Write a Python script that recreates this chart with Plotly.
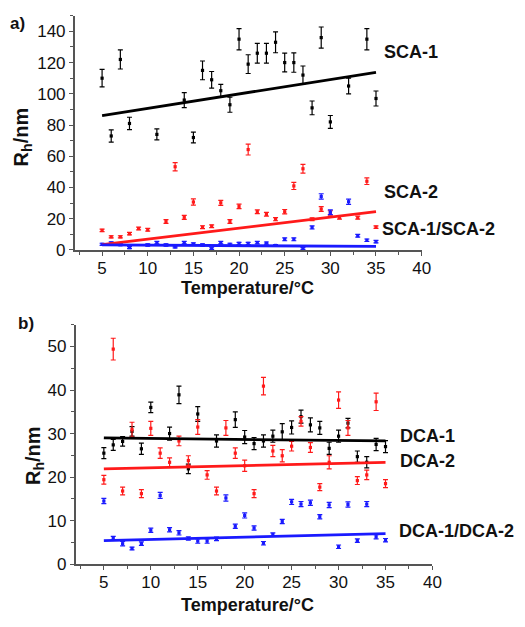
import plotly.graph_objects as go

# ---- Panel a: SCA series ----
sca1_T = [5, 6, 7, 8, 11, 14, 15, 16, 17, 18, 19, 20, 21, 22, 23, 24, 25, 26, 27, 28, 29, 30, 32, 34, 35]
sca1_R = [110, 73, 122, 81, 74, 96, 72, 115, 109, 102, 93, 135, 119, 126, 126, 133, 120, 120, 112, 91, 136, 82, 105, 135, 97]
sca1_err = [5.6, 3.9, 6.1, 4.0, 3.5, 4.8, 3.4, 6.0, 5.3, 4.0, 4.8, 6.8, 6.0, 6.3, 6.3, 6.7, 6.0, 6.2, 5.8, 4.4, 6.8, 4.1, 5.1, 6.8, 4.8]

sca2_T = [5, 6, 7, 8, 9, 10, 12, 13, 14, 15, 16, 17, 18, 19, 20, 21, 22, 23, 24, 25, 26, 27, 28, 29, 30, 31, 33, 34, 35]
sca2_R = [12.5, 8.4, 8.4, 10.4, 13.7, 12.9, 18.2, 53.3, 20.9, 30.7, 14.6, 15.2, 30.2, 18.2, 27.9, 64.3, 24.5,
          22.8, 19.7, 24.5, 41, 52, 19.7, 26.2, 23.7, 20.7, 20.7, 44, 14.6]
sca2_err = [0.8, 0.7, 0.7, 0.8, 0.9, 0.9, 1.2, 2.6, 1.3, 2.0, 0.9, 0.9, 1.6, 1.2, 1.4, 3.5, 1.2, 1.2, 1.0, 1.4,
            2.3, 2.8, 0.9, 1.5, 1.4, 0.9, 1.0, 2.1, 0.8]

sca12_T = [5, 6, 7, 8, 10, 11, 12, 13, 14, 15, 16, 17, 18, 19, 20, 21, 22, 23, 24, 25, 26, 27, 28, 29, 30, 32, 33, 34, 35]
sca12_R = [3.6, 4.5, 3.4, 1.5, 3.2, 4.7, 3.2, 1.9, 4.7, 3.8, 3.2, 0.8, 4.7, 3.6, 4.2, 4.2, 4.7, 4.4, 2.9, 6.8,
           6.8, 1.0, 14.4, 34.3, 24.1, 30.9, 9.1, 6.2, 5.3]
sca12_err = [0.7, 0.7, 0.7, 0.6, 0.7, 0.8, 0.7, 0.6, 0.8, 0.7, 0.7, 0.6, 0.8, 0.7, 0.7, 0.7, 0.8, 0.7, 0.6, 0.9,
             0.9, 0.6, 1.0, 1.7, 1.5, 1.7, 0.9, 0.8, 0.8]

fit_T = [5, 35]
sca1_fit = [86.0, 113.8]
sca2_fit = [3.4, 24.5]
sca12_fit = [3.2, 2.3]

# ---- Panel b: DCA series ----
dca1_T = [5, 6, 7, 8, 9, 10, 12, 13, 14, 15, 17, 19, 20, 21, 22, 23, 24, 25, 26, 27, 28, 29, 30, 31, 32, 33, 34, 35]
dca1_R = [25.5, 27.4, 28.2, 30.5, 26.5, 36.0, 30.0, 38.9, 21.9, 34.5, 28.3, 33.2, 29.2, 27.7, 28.3, 29.4, 30.4,
          31.4, 33.9, 32.0, 31.3, 26.6, 29.4, 32.4, 24.7, 23.4, 27.5, 27.0]
dca1_err = [1.25, 1.25, 1.1, 1.1, 1.3, 1.2, 1.5, 2.0, 1.1, 1.7, 1.4, 1.8, 1.5, 1.4, 1.4, 1.4, 1.9, 1.5, 1.5, 1.6,
            1.5, 1.4, 1.4, 1.1, 1.3, 1.3, 1.4, 1.4]

dca2_T = list(range(5, 36))
dca2_R = [19.4, 49.4, 16.8, 30.9, 16.2, 31.2, 25.5, 23.4, 28.3, 23.8, 31.5, 20.5, 16.8, 31.3, 25.5, 22.6, 16.2,
          40.9, 26.0, 24.9, 27.1, 32.8, 26.8, 17.7, 23.4, 37.7, 31.3, 19.2, 20.5, 37.3, 18.5]
dca2_err = [1.0, 2.5, 0.9, 1.7, 0.9, 1.6, 1.2, 1.0, 1.1, 1.1, 1.7, 1.0, 0.9, 1.7, 1.2, 1.3, 0.9, 2.0, 1.3, 1.4,
            1.1, 1.1, 1.1, 0.8, 1.5, 1.9, 1.7, 0.9, 1.1, 2.0, 0.9]

dca12_T = list(range(5, 36))
dca12_R = [14.5, 6.0, 4.7, 3.6, 4.7, 7.8, 15.8, 7.9, 7.2, 5.9, 5.3, 5.3, 5.8, 15.2, 8.7, 11.2, 8.3, 4.8, 6.8, 9.8,
           14.3, 13.8, 14.1, 10.9, 13.6, 4.0, 13.7, 5.4, 13.8, 6.3, 5.5]
dca12_err = [0.6, 0.4, 0.5, 0.3, 0.4, 0.5, 0.7, 0.5, 0.5, 0.4, 0.5, 0.5, 0.4, 0.7, 0.5, 0.6, 0.5, 0.4, 0.4, 0.5,
             0.6, 0.6, 0.6, 0.5, 0.6, 0.4, 0.6, 0.4, 0.6, 0.5, 0.4]

dca1_fit = [29.0, 28.3]
dca2_fit = [21.9, 23.4]
dca12_fit = [5.4, 7.0]

BLACK, RED, BLUE = "#000000", "#ff1a1a", "#1a1aff"
FONT = "Liberation Sans, Arial, sans-serif"
W, H = 525, 627

fig = go.Figure()


def points(T, R, err, color, xa, ya):
    fig.add_trace(go.Scatter(
        x=T, y=R, mode="markers", xaxis=xa, yaxis=ya,
        marker=dict(symbol="square", size=3.2, color=color),
        error_y=dict(type="data", array=err, visible=True, color=color, thickness=1.2, width=2.5),
        showlegend=False, cliponaxis=False,
    ))


def fit(T, F, color, xa, ya):
    fig.add_trace(go.Scatter(
        x=T, y=F, mode="lines", xaxis=xa, yaxis=ya,
        line=dict(color=color, width=2.8), showlegend=False,
    ))


points(sca1_T, sca1_R, sca1_err, BLACK, "x", "y")
points(sca2_T, sca2_R, sca2_err, RED, "x", "y")
points(sca12_T, sca12_R, sca12_err, BLUE, "x", "y")
fit(fit_T, sca1_fit, BLACK, "x", "y")
fit(fit_T, sca2_fit, RED, "x", "y")
fit(fit_T, sca12_fit, BLUE, "x", "y")

points(dca1_T, dca1_R, dca1_err, BLACK, "x2", "y2")
points(dca2_T, dca2_R, dca2_err, RED, "x2", "y2")
points(dca12_T, dca12_R, dca12_err, BLUE, "x2", "y2")
fit(fit_T, dca1_fit, BLACK, "x2", "y2")
fit(fit_T, dca2_fit, RED, "x2", "y2")
fit(fit_T, dca12_fit, BLUE, "x2", "y2")

AX = dict(
    showline=True, linecolor="#555555", linewidth=1.5, showgrid=False, zeroline=False,
    ticks="outside", ticklen=4, tickwidth=1.2, tickcolor="#555555",
    tickfont=dict(family=FONT, size=17, color="#111111"),
)
XMINOR = dict(ticks="outside", ticklen=3, tickcolor="#555555", dtick=2.5, tick0=2.5)

fig.update_layout(
    width=W, height=H, margin=dict(l=0, r=0, t=0, b=0),
    paper_bgcolor="white", plot_bgcolor="white",
    xaxis=dict(AX, domain=[76 / W, 429 / W], range=[2, 40], tick0=5, dtick=5,
               minor=XMINOR, ticklabelstandoff=-2, anchor="y"),
    yaxis=dict(AX, domain=[1 - 254 / H, 1 - 16 / H], range=[0, 150], dtick=20,
               minor=dict(ticks="outside", ticklen=3, tickcolor="#555555", dtick=10),
               anchor="x"),
    xaxis2=dict(AX, domain=[77 / W, 440 / W], range=[2, 40], tick0=5, dtick=5,
                minor=XMINOR, ticklabelstandoff=-2, anchor="y2"),
    yaxis2=dict(AX, domain=[1 - 573.3 / H, 1 - 330 / H], range=[0, 55], dtick=10,
                minor=dict(ticks="outside", ticklen=3, tickcolor="#555555", dtick=5),
                anchor="x2"),
)


def label(text, px, py, size=18, xanchor="left", angle=0):
    fig.add_annotation(
        x=px / W, y=1 - py / H, xref="paper", yref="paper", text=text, showarrow=False,
        xanchor=xanchor, yanchor="middle", textangle=angle,
        font=dict(family=FONT, size=size, color="#111111", weight="bold"),
    )


label("a)", 18, 24, size=17, xanchor="center")
label("b)", 26, 329, size=17, xanchor="center")

label("SCA-1", 389, 53)
label("SCA-2", 389, 195)
label("SCA-1/SCA-2", 387, 233)
label("DCA-1", 405, 443)
label("DCA-2", 405, 468)
label("DCA-1/DCA-2", 404, 540)

label("Temperature/°C", 252, 293, xanchor="center")
label("Temperature/°C", 252, 615, xanchor="center")

label("R<sub>h</sub>/nm", 23, 139, size=20, xanchor="center", angle=-90)
label("R<sub>h</sub>/nm", 35, 463, size=20, xanchor="center", angle=-90)

fig.write_html("out.html")
